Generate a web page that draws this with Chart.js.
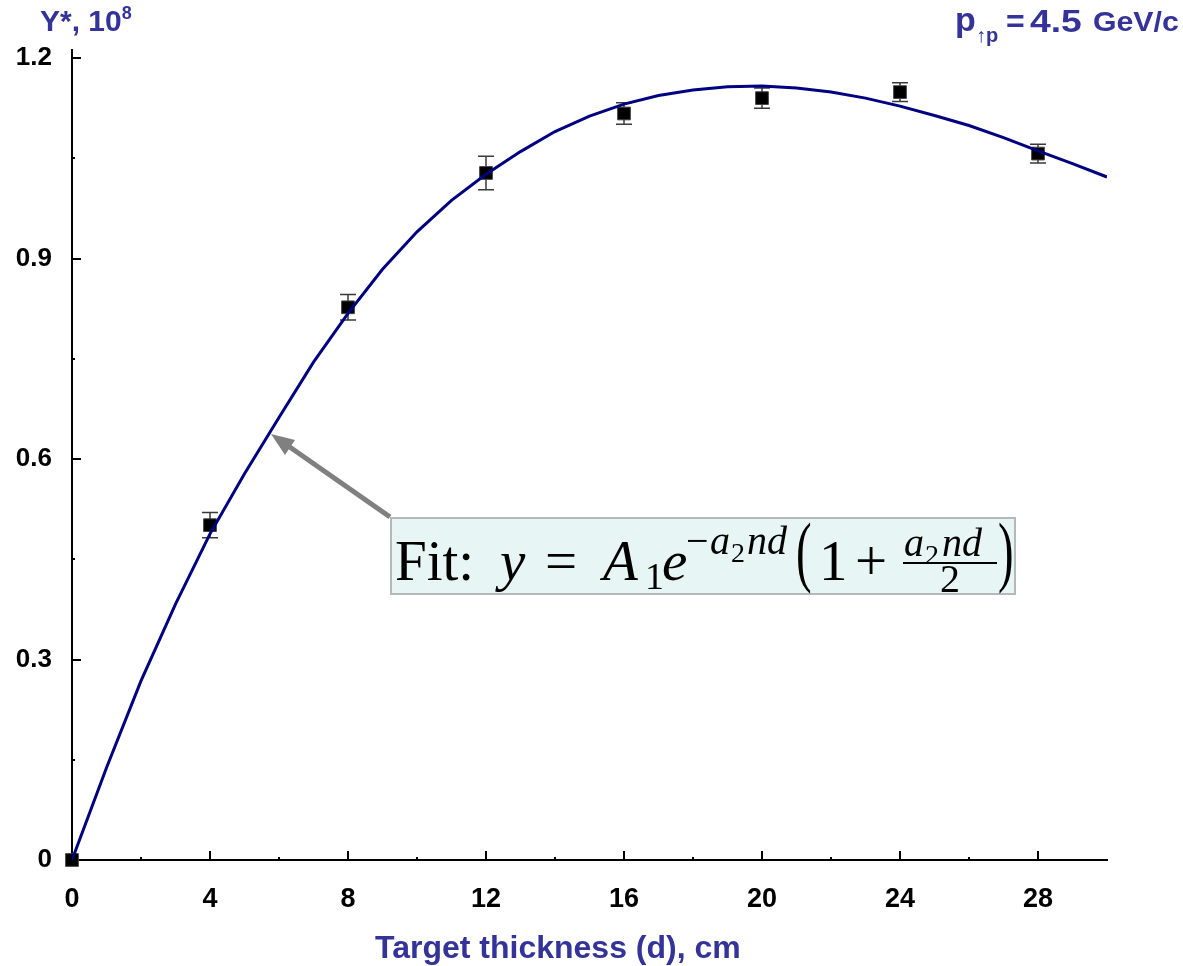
<!DOCTYPE html>
<html>
<head>
<meta charset="utf-8">
<script src="https://cdn.jsdelivr.net/npm/chart.js@4/dist/chart.umd.min.js"></script>
<style>
  html, body { margin: 0; padding: 0; background: #fff; }
  #wrap { position: relative; width: 1183px; height: 966px; overflow: hidden; }
  #c { position: absolute; left: 0; top: 0; }
  .lbl { position: absolute; font-family: "Liberation Sans", Arial, sans-serif; font-weight: bold; color: #333399; white-space: nowrap; line-height: 1; }
  #ytitle { left: 40px; top: 6px; font-size: 30px; }
  #ytitle sup { font-size: 18px; position: relative; top: -2px; vertical-align: top; }
  #xtitle { left: 375px; top: 931px; font-size: 32px; }
  #fitbox { position: absolute; left: 390px; top: 517px; width: 622px; height: 74px; background: #e8f5f5; border: 2px solid #b4b8b8; }
  .pc { position: absolute; white-space: nowrap; line-height: 1; transform-origin: 0 0; }
  .serif { font-family: "Liberation Serif", "DejaVu Serif", serif; color: #000; }
  .sans { font-family: "Liberation Sans", Arial, sans-serif; font-weight: bold; color: #333399; }
  #fracbar { position: absolute; left: 903px; top: 562px; width: 94px; height: 2px; background: #000; }
  #arrow { position: absolute; left: 0; top: 0; }
</style>
</head>
<body>
<div id="wrap">
  <canvas id="c" width="1183" height="966"></canvas>
  <div class="lbl" id="ytitle">Y*, 10<sup>8</sup></div>
  <div class="lbl" id="xtitle">Target thickness (d), cm</div>
  <svg id="arrow" width="1183" height="966">
    <line x1="390" y1="517" x2="284" y2="443" stroke="#808080" stroke-width="5"/>
    <polygon points="271,434 295,440 285,455" fill="#808080"/>
  </svg>
  <div id="fitbox"></div>
  <div id="fracbar"></div>
</div>
<script>
// ---- data ----
const thickness = [0, 4, 8, 12, 16, 20, 24, 28];
const yieldValues = [0, 0.501, 0.827, 1.028, 1.117, 1.140, 1.149, 1.057];
const yieldErrors = [0, 0.019, 0.019, 0.025, 0.016, 0.015, 0.014, 0.014];
const fitThickness = [0,1,2,3,4,5,6,7,8,9,10,11,12,13,14,15,16,17,18,19,20,21,22,23,24,25,26,27,28,29,30];
const fitValues = [0, 0.138, 0.268, 0.383, 0.488, 0.578, 0.662, 0.745, 0.818, 0.884, 0.940, 0.987, 1.026, 1.060, 1.090, 1.113, 1.131, 1.144, 1.152, 1.157, 1.158, 1.155, 1.149, 1.140, 1.128, 1.114, 1.099, 1.081, 1.061, 1.042, 1.022];
const yTickValues = [0, 0.15, 0.3, 0.45, 0.6, 0.75, 0.9, 1.05, 1.2];
const yMajorLabels = ['0', '0.3', '0.6', '0.9', '1.2'];
const xTickValues = [0, 2, 4, 6, 8, 10, 12, 14, 16, 18, 20, 22, 24, 26, 28];

// ---- text pieces for the annotations (text, left, baseline, size, italic, scaleX, class) ----
const textPieces = [
  ['Fit:', 395, 580, 57, false, 1, 'serif'],
  ['y', 500, 580, 57, true, 1, 'serif'],
  ['=', 545, 580, 57, false, 1, 'serif'],
  ['A', 603, 580, 57, true, 1, 'serif'],
  ['1', 645, 589, 38, false, 1, 'serif'],
  ['e', 662, 580, 57, true, 1, 'serif'],
  ['\u2212', 686, 554, 40, false, 1, 'serif'],
  ['a', 710, 554, 40, true, 1, 'serif'],
  ['2', 731, 562, 28, false, 1, 'serif'],
  ['nd', 747, 554, 40, true, 1, 'serif'],
  ['(', 796, 577, 78, false, 0.6, 'serif'],
  ['1', 819, 580, 57, false, 1, 'serif'],
  ['+', 855, 580, 57, false, 1, 'serif'],
  ['a', 904, 556, 40, true, 1, 'serif'],
  ['2', 925, 564, 28, false, 1, 'serif'],
  ['nd', 942, 556, 40, true, 1, 'serif'],
  ['2', 940, 592, 40, false, 1, 'serif'],
  [')', 998, 577, 78, false, 0.6, 'serif'],
  ['p', 955, 31, 34, false, 1, 'sans'],
  ['\u2191p', 976, 42, 20, false, 1, 'sans'],
  ['=', 1006, 32, 32, false, 1, 'sans'],
  ['4.5', 1030, 32, 31, false, 1.2, 'sans'],
  ['GeV/c', 1093, 32, 27, false, 1.12, 'sans']
];
(function placeText() {
  const wrap = document.getElementById('wrap');
  textPieces.forEach(([t, left, base, size, ital, sx, cls]) => {
    const s = document.createElement('span');
    s.className = 'pc ' + cls;
    s.textContent = t;
    const asc = cls === 'serif' ? 0.8375 : 0.8465;
    s.style.left = left + 'px';
    s.style.top = (base - asc * size) + 'px';
    s.style.fontSize = size + 'px';
    if (ital) s.style.fontStyle = 'italic';
    if (sx !== 1) s.style.transform = 'scaleX(' + sx + ')';
    wrap.appendChild(s);
  });
})();

const measured = thickness.map((d, i) => ({ x: d, y: yieldValues[i], err: yieldErrors[i] }));
const fitLine = fitThickness.map((d, i) => ({ x: d, y: fitValues[i] }));

const isMajor = (v, step) => Math.abs(v / step - Math.round(v / step)) < 1e-6;

const decor = {
  id: 'decor',
  beforeDatasetsDraw(chart) {
    const { ctx, scales: { x, y } } = chart;
    ctx.save();
    ctx.strokeStyle = '#000';
    ctx.lineWidth = 2;
    yTickValues.forEach(v => {
      const py = Math.round(y.getPixelForValue(v));
      const len = isMajor(v, 0.3) ? 9 : 3;
      ctx.beginPath(); ctx.moveTo(x.left, py); ctx.lineTo(x.left + len, py); ctx.stroke();
    });
    xTickValues.forEach(v => {
      const px = Math.round(x.getPixelForValue(v));
      const len = isMajor(v, 4) ? 9 : 3;
      ctx.beginPath(); ctx.moveTo(px, y.bottom); ctx.lineTo(px, y.bottom - len); ctx.stroke();
    });
    ctx.strokeStyle = '#3a3a3a';
    ctx.lineWidth = 1.5;
    measured.forEach(p => {
      if (!p.err) return;
      const px = x.getPixelForValue(p.x);
      const top = y.getPixelForValue(p.y + p.err);
      const bot = y.getPixelForValue(p.y - p.err);
      ctx.beginPath();
      ctx.moveTo(px, top); ctx.lineTo(px, bot);
      ctx.moveTo(px - 8, top); ctx.lineTo(px + 8, top);
      ctx.moveTo(px - 8, bot); ctx.lineTo(px + 8, bot);
      ctx.stroke();
    });
    ctx.restore();
  }
};

new Chart(document.getElementById('c'), {
  type: 'scatter',
  data: {
    datasets: [
      {
        label: 'Fit',
        data: fitLine,
        showLine: true,
        borderColor: '#000080',
        borderWidth: 3,
        pointRadius: 0,
        tension: 0,
        order: 1
      },
      {
        label: 'Y*',
        data: measured,
        pointStyle: 'rect',
        pointRadius: 9,
        backgroundColor: '#000',
        borderColor: '#444',
        borderWidth: 1,
        clip: false,
        order: 2
      }
    ]
  },
  options: {
    responsive: false,
    animation: false,
    layout: { padding: { left: 0, right: 76, top: 50, bottom: 0 } },
    plugins: { legend: { display: false }, tooltip: { enabled: false } },
    scales: {
      x: {
        type: 'linear', min: 0, max: 30,
        afterBuildTicks: s => { s.ticks = xTickValues.map(v => ({ value: v })); },
        afterFit: s => { s.height = 106; },
        grid: { display: true, drawOnChartArea: false, drawTicks: false },
        border: { display: true, color: '#000', width: 2 },
        ticks: {
          autoSkip: false, maxRotation: 0, padding: 23, color: '#000',
          font: { family: '"Liberation Sans", Arial, sans-serif', weight: 'bold', size: 27 },
          callback: v => isMajor(v, 4) ? String(v) : ''
        },
        title: { display: false }
      },
      y: {
        type: 'linear', min: 0, max: 1.212,
        afterBuildTicks: s => { s.ticks = yTickValues.map(v => ({ value: v })); },
        afterFit: s => { s.width = 72; },
        grid: { display: true, drawOnChartArea: false, drawTicks: false },
        border: { display: true, color: '#000', width: 2 },
        ticks: {
          autoSkip: false, padding: 20, color: '#000',
          font: { family: '"Liberation Sans", Arial, sans-serif', weight: 'bold', size: 26 },
          callback: v => isMajor(v, 0.3) ? yMajorLabels[Math.round(v / 0.3)] : ''
        }
      }
    }
  },
  plugins: [decor]
});
</script>
</body>
</html>
